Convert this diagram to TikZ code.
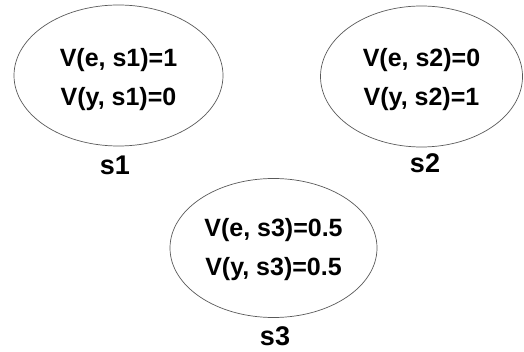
\documentclass[tikz,border=0pt]{standalone}
\usepackage{fontspec}
\setmainfont{Liberation Sans}[BoldFont={Liberation Sans Bold}]
\usetikzlibrary{shapes.geometric}
\begin{document}
\begin{tikzpicture}[x=1pt,y=-1pt,
  statebox/.style={ellipse, draw=black!65, line width=0.7pt, inner sep=0pt},
  values/.style={align=center, inner sep=0pt,
    font=\fontsize{25}{39}\selectfont\bfseries},
  statename/.style={anchor=base, inner sep=0pt,
    font=\fontsize{27}{30}\selectfont\bfseries}]
  \useasboundingbox (0,0) rectangle (524,352);
  % the three states
  \node[statebox, minimum width=209pt, minimum height=141pt] (s1) at (118.5,75.5) {};
  \node[statebox, minimum width=202pt, minimum height=141pt] (s2) at (421.5,76.5) {};
  \node[statebox, minimum width=207pt, minimum height=139pt] (s3) at (273.5,248) {};
  % values held in each state
  \node[values, yshift=-4pt] (v1) at (s1.center) {V(e, s1)=1\\V(y, s1)=0};
  \node[values, yshift=-3pt] (v2) at (s2.center) {V(e, s2)=0\\V(y, s2)=1};
  \node[values, yshift=-2pt] (v3) at (s3.center) {V(e, s3)=0.5\\V(y, s3)=0.5};
  % state names below each ellipse
  \node[statename] (n1) at (115,175) {s1};
  \node[statename] (n2) at (425,173) {s2};
  \node[statename] (n3) at (275,345) {s3};
\end{tikzpicture}
\end{document}
